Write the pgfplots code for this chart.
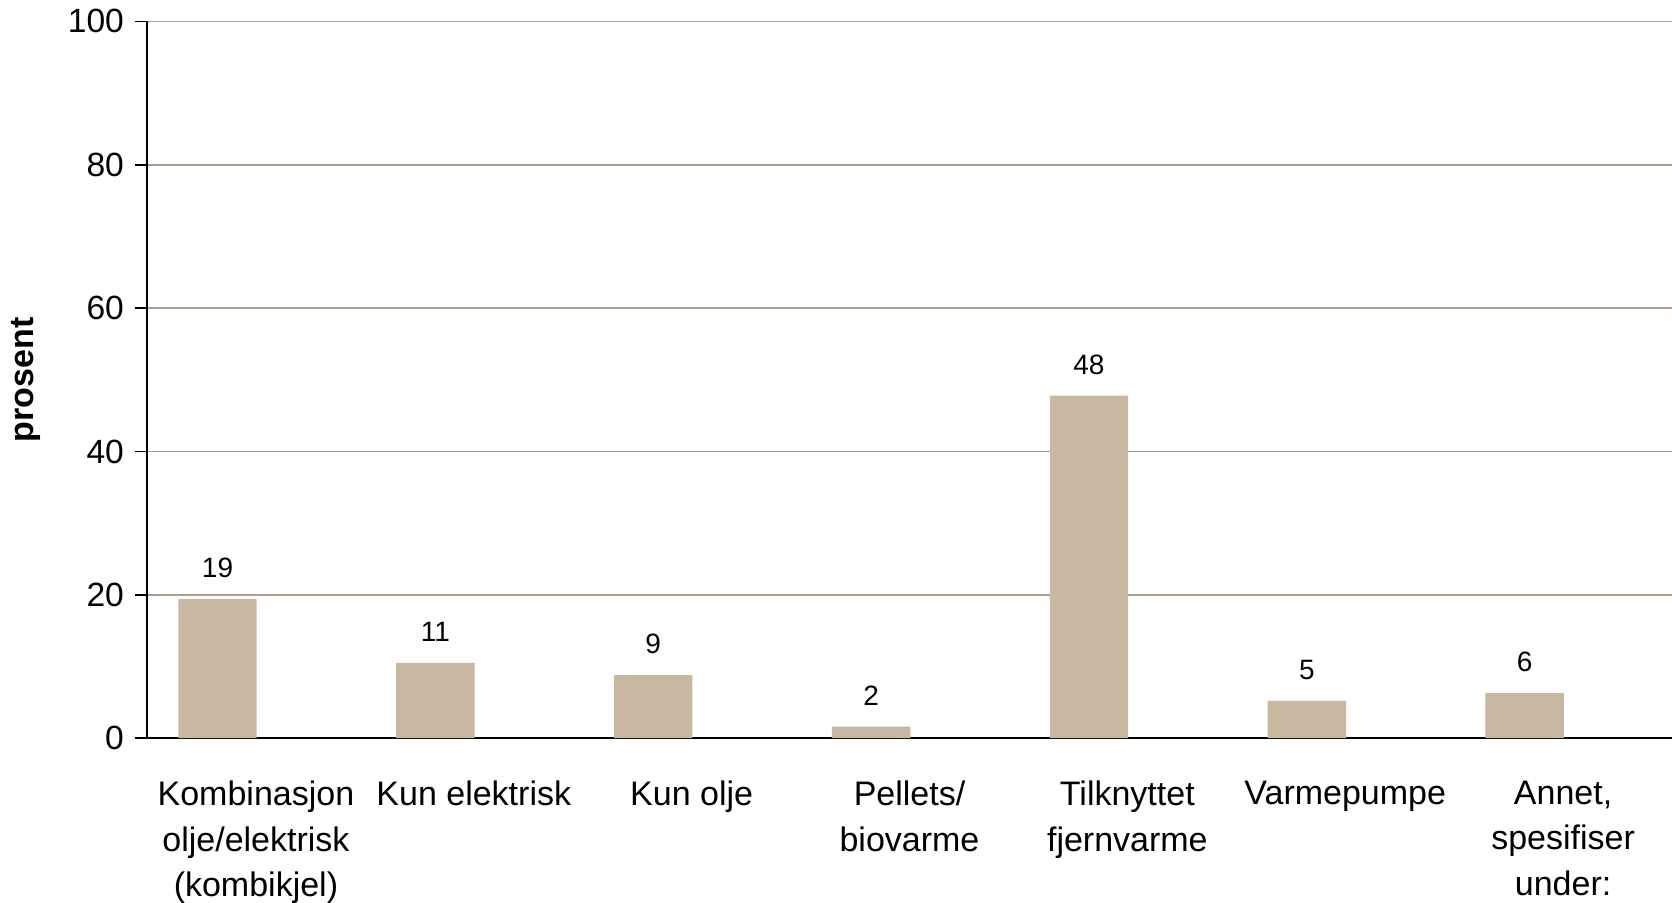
\documentclass[border=0pt]{standalone}
\usepackage{pgfplots}
\pgfplotsset{compat=1.18}
\usepackage{fontspec}
\setmainfont{Liberation Sans}
\definecolor{barc}{HTML}{C8B8A2}
\definecolor{gridc}{HTML}{AE9E90}
\begin{document}
\begin{tikzpicture}
\begin{axis}[
  name=ax,
  scale only axis,
  width=762.5pt, height=358.4pt,
  xmin=-0.5, xmax=6.5,
  ymin=0, ymax=100,
  ytick={0,20,40,60,80,100},
  axis x line*=bottom,
  axis y line*=left,
  axis line style={black, line width=0.8pt},
  ymajorgrids,
  major grid style={gridc, line width=0.8pt},
  tick align=outside,
  y tick style={black, line width=0.8pt},
  major tick length=6pt,
  /pgf/number format/assume math mode=true,
  yticklabel style={font=\fontsize{16.8}{18}\selectfont, xshift=-2pt},
  xtick={0,1,2,3,4,5,6},
  xticklabels={{Kombinasjon\\olje/elektrisk\\(kombikjel)}, {Kun elektrisk}, {Kun olje}, {Pellets/\\biovarme}, {Tilknyttet\\fjernvarme}, {Varmepumpe}, {Annet,\\spesifiser\\under:}},
  x tick style={draw=none},
  xticklabel style={font=\fontsize{17}{22.6}\selectfont, align=center, yshift=-12pt},
  extra x ticks={-0.5,0.5,1.5,2.5,3.5,4.5,5.5,6.5},
  extra x tick labels={},
  extra x tick style={tick style={draw=black!80, line width=0.8pt}, major tick length=6pt, grid=none},
  ylabel={\bfseries prosent},
  ylabel style={font=\fontsize{17}{20}\selectfont, at={([xshift=-60.5pt]axis description cs:0,0.5)}, anchor=center},
  ybar,
  bar width=0.36,
  bar shift=-19.2pt,
  nodes near coords,
  point meta=explicit symbolic,
  every node near coord/.append style={font=\fontsize{14}{16}\selectfont, black, yshift=7pt},
]
\addplot[fill=barc, draw=none] coordinates {
  (0,19.4) [19]
  (1,10.5) [11]
  (2,8.8) [9]
  (3,1.6) [2]
  (4,47.8) [48]
  (5,5.2) [5]
  (6,6.3) [6]
};
\end{axis}
\pgfresetboundingbox
\path[use as bounding box] ([xshift=-73.5pt,yshift=-82pt]ax.south west) rectangle ([yshift=10.7pt]ax.north east);
\end{tikzpicture}
\end{document}
